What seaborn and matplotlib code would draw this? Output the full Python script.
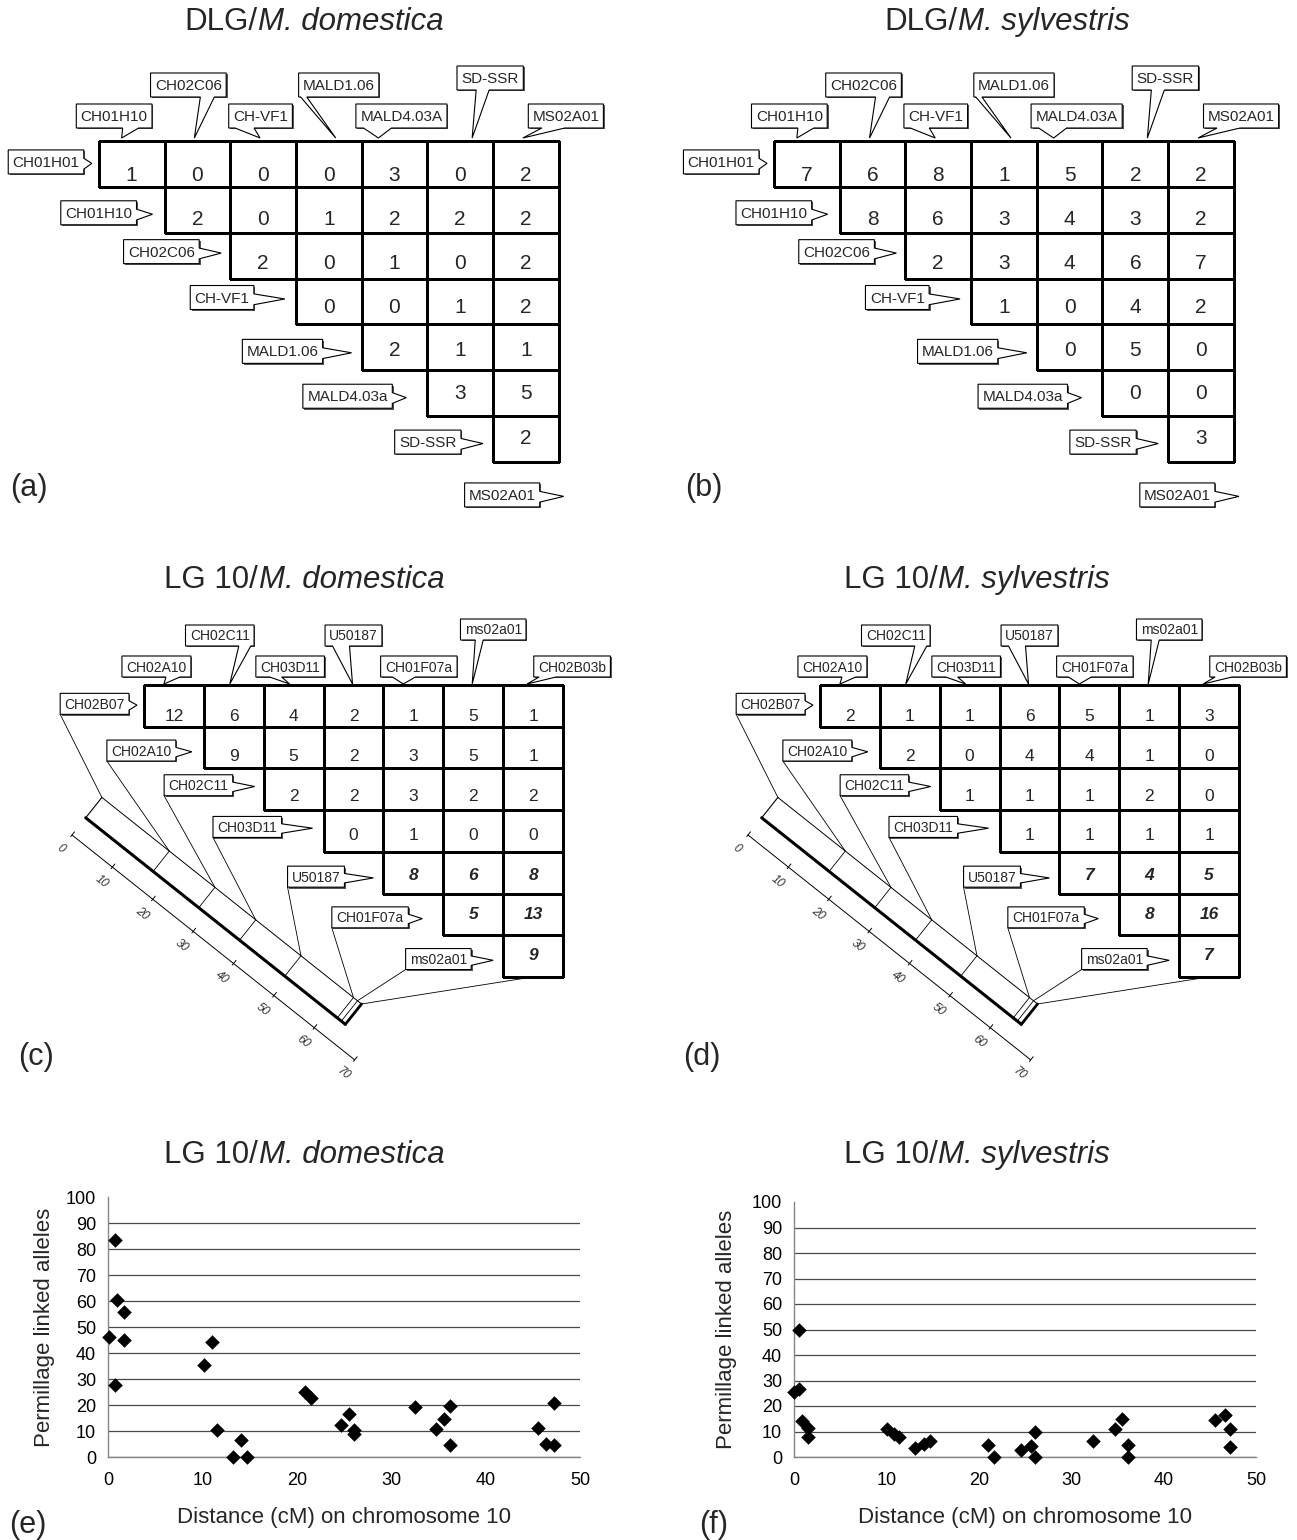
import numpy as np
import matplotlib
matplotlib.use("Agg")
import matplotlib.pyplot as plt
import seaborn as sns
from matplotlib.colors import ListedColormap
from matplotlib.patches import Polygon, Rectangle
from matplotlib.textpath import TextPath
from matplotlib.font_manager import FontProperties

# ---------------- data ----------------
dlg_rows = ["CH01H01", "CH01H10", "CH02C06", "CH-VF1", "MALD1.06",
            "MALD4.03a", "SD-SSR", "MS02A01"]
dlg_cols = ["CH01H10", "CH02C06", "CH-VF1", "MALD1.06", "MALD4.03A",
            "SD-SSR", "MS02A01"]
dlg_domestica = [[1, 0, 0, 0, 3, 0, 2], [2, 0, 1, 2, 2, 2], [2, 0, 1, 0, 2],
                 [0, 0, 1, 2], [2, 1, 1], [3, 5], [2]]
dlg_sylvestris = [[7, 6, 8, 1, 5, 2, 2], [8, 6, 3, 4, 3, 2], [2, 3, 4, 6, 7],
                  [1, 0, 4, 2], [0, 5, 0], [0, 0], [3]]

lg10_rows = ["CH02B07", "CH02A10", "CH02C11", "CH03D11", "U50187",
             "CH01F07a", "ms02a01"]
lg10_cols = ["CH02A10", "CH02C11", "CH03D11", "U50187", "CH01F07a",
             "ms02a01", "CH02B03b"]
lg10_domestica = [[12, 6, 4, 2, 1, 5, 1], [9, 5, 2, 3, 5, 1], [2, 2, 3, 2, 2],
                  [0, 1, 0, 0], [8, 6, 8], [5, 13], [9]]
lg10_sylvestris = [[2, 1, 1, 6, 5, 1, 3], [2, 0, 4, 4, 1, 0], [1, 1, 1, 2, 0],
                   [1, 1, 1, 1], [7, 4, 5], [8, 16], [7]]
lg10_map_pos = [0, 16.7, 28.0, 38.1, 49.3, 62.3, 63.3]
lg10_map_len = 64.3
ruler_ticks = [0, 10, 20, 30, 40, 50, 60, 70]

dom_dist = [0.1, 0.75, 1.0, 1.7, 1.7, 0.75, 10.2, 11.0, 11.5, 13.2, 14.1, 14.7,
            20.9, 21.5, 24.7, 25.5, 26.1, 26.1, 32.5, 34.7, 35.6, 36.2, 36.2,
            45.6, 46.4, 47.2, 47.2]
dom_perm = [46.2, 83.3, 60.3, 55.9, 45.1, 27.7, 35.4, 44.2, 10.4, 0, 6.7, 0,
            25.1, 22.6, 12.2, 16.5, 10.5, 8.7, 19.2, 10.8, 14.6, 19.6, 4.6,
            11.3, 5.1, 4.6, 20.6]
syl_dist = [0, 0.5, 0.5, 0.85, 1.5, 1.5, 10.1, 10.8, 11.4, 13.1, 14.1, 14.7,
            21.0, 21.6, 24.6, 25.6, 26.1, 26.1, 32.4, 34.7, 35.5, 36.1, 36.1,
            45.6, 46.6, 47.2, 47.2]
syl_perm = [25.4, 26.5, 49.8, 14.0, 11.3, 7.9, 11.1, 8.9, 7.7, 3.7, 5.1, 6.2,
            4.7, 0, 2.9, 4.2, 9.8, 0, 6.2, 11.0, 14.9, 4.7, 0, 14.4, 16.4,
            11.0, 3.8]

# ---------------- setup ----------------
sns.set_style("white")
plt.rcParams["font.family"] = ["Liberation Sans", "DejaVu Sans"]

W, H, DPI = 1297, 1540, 100
fig = plt.figure(figsize=(W / DPI, H / DPI), dpi=DPI)
canvas = fig.add_axes([0, 0, 1, 1])
canvas.set_xlim(0, W)
canvas.set_ylim(H, 0)
canvas.axis("off")


def text_w(s, size, style="normal"):
    fp = FontProperties(family="Liberation Sans", style=style)
    return TextPath((0, 0), s, size=size * DPI / 72, prop=fp).get_extents().width


def mixed_title(cx, cy, reg, ital, size=22.5):
    w1, w2 = text_w(reg, size), text_w(ital, size, "italic")
    xs = cx - (w1 + w2) / 2 + w1
    canvas.text(xs, cy, reg, ha="right", va="center", fontsize=size)
    canvas.text(xs + 1, cy, ital, ha="left", va="center", fontsize=size, style="italic")


def callout(x0, y0, w, h, label, tail, size):
    x1, y1 = x0 + w, y0 + h
    kind, tx, ty, b0, b1 = tail
    if kind == "right":
        pts = [(x0, y0), (x1, y0), (x1, b0), (tx, ty), (x1, b1), (x1, y1), (x0, y1)]
    else:
        b0, b1 = max(b0, x0 + 2), min(b1, x1 - 2)
        pts = [(x0, y0), (x1, y0), (x1, y1), (b1, y1), (tx, ty), (b0, y1), (x0, y1)]
    canvas.add_patch(Rectangle((x0 + 1.4, y0 + 1.4), w, h, fc="#555555", ec="none"))
    canvas.add_patch(Polygon(pts, closed=True, fc="white", ec="black", lw=0.8))
    canvas.text(x0 + w / 2, y0 + h / 2 + 1, label, ha="center", va="center", fontsize=size)


NUM_FRAC = [0.76, 0.72, 0.68, 0.62, 0.56, 0.51, 0.48]
ROW_BOX_R = [-15, -28, -31, -42, -39, -35, -32, -19]
ROW_TIP = [-7, -12, -9, -11, -10, -21, -10, 5]
ROW_DY = [-2, 3, -4, -4, 4, 3, 3, 10]

AB_COL = [(-17.5, -10, -9, 7, 13), (-9, -3, 3, 17, 44), (-2.5, -3, -28, -9, 13),
          (10, 7, -38, -22, 44), (7, -16, -31, -3, 13), (30, 12, 16, 29, 51),
          (40, -3, 16, 39, 13)]
CD_COL = [(-17.5, -10, -8, 6, 8), (-14, -4, 5, 17, 39), (-3.5, -4, -24, -12, 8),
          (0, -1, -21, -4, 39), (5.5, -10, -21, 2, 8), (20, -1, 2, 10, 45),
          (39, -6, 6, 23, 8)]


def matrix_panel(x0, y0, cw, rh, vals, rows, cols, col_layout, lab_size,
                 num_size, box_h, tip_gap, bold_from=None):
    n = len(vals)
    ax = fig.add_axes([x0 / W, 1 - (y0 + n * rh) / H, n * cw / W, n * rh / H])
    grid = np.full((n, n), np.nan)
    for i, r in enumerate(vals):
        grid[i, i:i + len(r)] = r
    mask = np.isnan(grid)
    sns.heatmap(grid, mask=mask, cmap=ListedColormap(["white"]), cbar=False,
                linewidths=0.75, linecolor="#111111", xticklabels=False,
                yticklabels=False, ax=ax)
    mesh = ax.collections[0]
    ec = np.zeros((n * n, 4))
    ec[~mask.ravel(), 3] = 1.0
    mesh.set_edgecolor(ec)
    mesh.set_clip_on(False)
    ax.patch.set_visible(False)
    for i, r in enumerate(vals):
        for k, v in enumerate(r):
            bold = bold_from is not None and i >= bold_from
            ax.text(i + k + 0.5, i + NUM_FRAC[i], str(v), ha="center", va="center",
                    fontsize=num_size, fontweight="bold" if bold else "normal",
                    style="italic" if bold else "normal")
    corners = []
    for i, name in enumerate(rows):
        cell_left = x0 + i * cw
        yc = y0 + (i + 0.5) * rh + ROW_DY[i]
        w = text_w(name, lab_size) + 10
        right = cell_left + ROW_BOX_R[i]
        top = yc - box_h / 2
        callout(right - w, top, w, box_h, name,
                ("right", cell_left + ROW_TIP[i], top + 0.56 * box_h,
                 top + 0.35 * box_h, top + 0.8 * box_h), lab_size)
        corners.append((right - w, top + box_h))
    for j, name in enumerate(cols):
        cx = x0 + (j + 0.5) * cw
        boff, toff, b0, b1, up = col_layout[j]
        w = text_w(name, lab_size) + 10
        bottom = y0 - up
        callout(cx + boff - w / 2, bottom - box_h, w, box_h, name,
                ("down", cx + toff, y0 - tip_gap, cx + b0, cx + b1), lab_size)
    return corners


def chromosome(dx, corners, grid_end):
    ang = np.deg2rad(38.5)
    u = np.array([np.cos(ang), np.sin(ang)])
    nv = np.array([np.sin(ang), -np.cos(ang)])
    org = np.array([72.0 + dx, 835.0])
    sc = 5.16

    def P(p, off):
        return org + p * sc * u + off * nv

    def seg(a, b, **kw):
        canvas.plot([a[0], b[0]], [a[1], b[1]], color="black",
                    solid_capstyle="round", **kw)

    seg(P(0, 48), P(lg10_map_len, 48), lw=0.7)
    seg(P(0, 22), P(lg10_map_len, 22), lw=2.2)
    seg(P(0, 22), P(0, 48), lw=0.8)
    seg(P(lg10_map_len, 22), P(lg10_map_len, 48), lw=2.0)
    for p in lg10_map_pos[1:]:
        seg(P(p, 22), P(p, 48), lw=0.6)
    # ruler
    seg(P(0, 0), P(ruler_ticks[-1], 0), lw=0.7)
    for t in ruler_ticks:
        seg(P(t, -2), P(t, 4), lw=0.7)
        q = P(t, -18)
        canvas.text(q[0], q[1], str(t), rotation=-38.5, rotation_mode="anchor",
                    ha="center", va="center", fontsize=8.5, style="italic",
                    color="#333333")
    # connectors
    for (bx, by), p in zip(corners, lg10_map_pos):
        q = P(p, 48)
        canvas.plot([bx, q[0]], [by, q[1]], color="black", lw=0.6)
    q = P(lg10_map_len, 48)
    canvas.plot([grid_end[0], q[0]], [grid_end[1], q[1]], color="black", lw=0.6)


# ---------------- panels (a) and (b) ----------------
AB_CW, AB_RH, AB_Y0 = 65.7, 45.86, 141
for x0, vals, tcx, ital, lab in [(98.8, dlg_domestica, 314, "M. domestica", "(a)"),
                                 (774, dlg_sylvestris, 1007, "M. sylvestris", "(b)")]:
    matrix_panel(x0, AB_Y0, AB_CW, AB_RH, vals, dlg_rows, dlg_cols, AB_COL,
                 11, 15, 24, 3)
    mixed_title(tcx, 22, "DLG/", ital)
    canvas.text(x0 - 90 + 20, 488, lab, ha="center", va="center", fontsize=22)

# ---------------- panels (c) and (d) ----------------
CD_CW, CD_RH, CD_Y0 = 59.86, 41.7, 685
for x0, dx, vals, tcx, ital, lab in [(144, 0, lg10_domestica, 304, "M. domestica", "(c)"),
                                     (820, 676, lg10_sylvestris, 977, "M. sylvestris", "(d)")]:
    corners = matrix_panel(x0, CD_Y0, CD_CW, CD_RH, vals, lg10_rows, lg10_cols,
                           CD_COL, 10, 12.5, 21, 1, bold_from=4)
    chromosome(dx, corners, (x0 + 6.5 * CD_CW, CD_Y0 + 7 * CD_RH))
    mixed_title(tcx, 580, "LG 10/", ital)
    canvas.text(36 + dx - 10 * (dx > 0), 1057, lab, ha="center", va="center", fontsize=22)

# ---------------- panels (e) and (f) ----------------
for (left, width, top), xs, ys, tcx, ital, lab, lx in [
        ((108, 472, 1197), dom_dist, dom_perm, 304, "M. domestica", "(e)", -0.1335),
        ((794, 462, 1202), syl_dist, syl_perm, 977, "M. sylvestris", "(f)", -0.147)]:
    hgt = 1457 - top
    ax = fig.add_axes([left / W, 1 - 1457 / H, width / W, hgt / H])
    ax.set_facecolor("none")
    sns.scatterplot(x=xs, y=ys, marker="D", s=55, color="black", linewidth=0,
                    ax=ax, clip_on=False, legend=False, zorder=3)
    ax.set_xlim(0, 50)
    ax.set_ylim(0, 100)
    ax.set_xticks(range(0, 51, 10))
    ax.set_yticks(range(0, 101, 10))
    ax.yaxis.grid(True, color="#4a4a4a", lw=0.9)
    ax.xaxis.grid(False)
    ax.get_ygridlines()[-1].set_visible(False)
    for s in ["top", "right"]:
        ax.spines[s].set_visible(False)
    for s in ["left", "bottom"]:
        ax.spines[s].set_color("#868686")
        ax.spines[s].set_linewidth(1.0)
    ax.tick_params(axis="both", direction="out", length=5, width=1,
                   color="#868686", labelsize=13, labelcolor="black")
    ax.tick_params(axis="x", pad=6)
    ax.set_xlabel("Distance (cM) on chromosome 10", fontsize=16, va="center")
    ax.set_ylabel("Permillage linked alleles", fontsize=16, va="center")
    ax.xaxis.set_label_coords(0.5, (1457 - 1517) / hgt)
    ax.yaxis.set_label_coords(lx, 0.5)
    mixed_title(tcx, 1155, "LG 10/", ital)
    canvas.text(left - 80, 1525, lab, ha="center", va="center", fontsize=22)

fig.savefig("out.png", dpi=DPI)
